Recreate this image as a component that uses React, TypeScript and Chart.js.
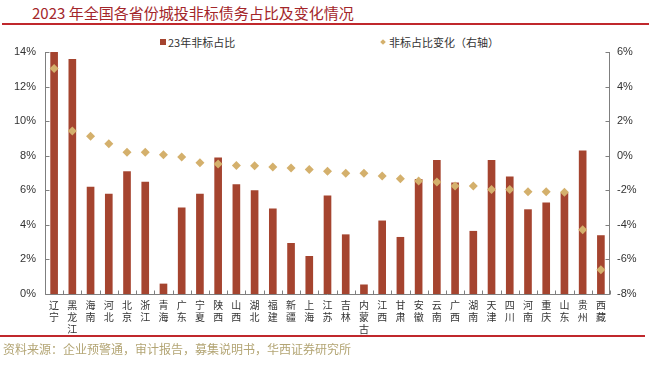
import React, { useEffect, useRef } from "react";
import { Chart, registerables } from "chart.js";

Chart.register(...registerables);

const provinces = [
  "辽宁", "黑龙江", "海南", "河北", "北京", "浙江", "青海", "广东", "宁夏", "陕西",
  "山西", "湖北", "福建", "新疆", "上海", "江苏", "吉林", "内蒙古", "江西", "甘肃",
  "安徽", "云南", "广西", "湖南", "天津", "四川", "河南", "重庆", "山东", "贵州", "西藏",
];
const share2023 = [
  14.0, 13.6, 6.2, 5.8, 7.1, 6.5, 0.6, 5.0, 5.8, 7.9,
  6.35, 6.0, 4.95, 2.95, 2.2, 5.7, 3.45, 0.55, 4.25, 3.3,
  6.65, 7.75, 6.45, 3.65, 7.75, 6.8, 4.9, 5.3, 5.85, 8.3, 3.4,
];
const shareChange = [
  5.05, 1.43, 1.12, 0.69, 0.2, 0.2, 0.06, -0.08, -0.4, -0.48,
  -0.56, -0.58, -0.65, -0.71, -0.8, -0.9, -1.02, -1.02, -1.17, -1.33,
  -1.46, -1.52, -1.75, -1.75, -1.96, -1.96, -2.08, -2.08, -2.12, -4.29, -6.59,
];
const leftMin = 0;
const leftMax = 14;
const rightMin = -8;
const rightMax = 6;
const tickStep = 2;

const barColor = "#A5442F";
const pointColor = "#D4B06C";
const axisColor = "#7F7F7F";

const axisPlugin = {
  id: "innerTicks",
  afterDraw(chart: any) {
    const { ctx, chartArea } = chart;
    const { left, right, top, bottom } = chartArea;
    const y = chart.scales.y;
    const y1 = chart.scales.y1;
    ctx.save();
    ctx.strokeStyle = axisColor;
    ctx.lineWidth = 1;
    ctx.beginPath();
    const L = Math.round(left) + 0.5;
    const R = Math.round(right) - 0.5;
    const B = Math.round(bottom) + 0.5;
    ctx.moveTo(L, Math.round(top));
    ctx.lineTo(L, B);
    ctx.lineTo(R + 0.5, B);
    ctx.moveTo(R, Math.round(top));
    ctx.lineTo(R, B);
    for (let v = leftMin; v <= leftMax; v += tickStep) {
      const py = Math.round(y.getPixelForValue(v)) + 0.5;
      ctx.moveTo(L, py);
      ctx.lineTo(L + 4, py);
    }
    for (let v = rightMin; v <= rightMax; v += tickStep) {
      const py = Math.round(y1.getPixelForValue(v)) + 0.5;
      ctx.moveTo(R, py);
      ctx.lineTo(R - 4, py);
    }
    const n = provinces.length;
    const w = (right - left) / n;
    for (let i = 0; i <= n; i++) {
      const px = Math.round(left + i * w) + 0.5;
      ctx.moveTo(px, B);
      ctx.lineTo(px, B - 4);
    }
    ctx.stroke();
    ctx.restore();
  },
};

export default function App() {
  const ref = useRef<HTMLCanvasElement>(null);

  useEffect(() => {
    if (!ref.current) return;
    const chart = new Chart(ref.current, {
      type: "bar",
      data: {
        labels: provinces.map((p) => p.split("")),
        datasets: [
          {
            type: "line",
            label: "非标占比变化（右轴）",
            data: shareChange,
            yAxisID: "y1",
            showLine: false,
            pointStyle: "rectRot",
            pointRadius: 4.5,
            pointBackgroundColor: pointColor,
            pointBorderColor: pointColor,
            pointBorderWidth: 0,
            order: 0,
          } as any,
          {
            type: "bar",
            label: "23年非标占比",
            data: share2023,
            yAxisID: "y",
            backgroundColor: barColor,
            barPercentage: 0.42,
            categoryPercentage: 1,
            order: 1,
          },
        ],
      },
      options: {
        animation: false,
        responsive: false,
        maintainAspectRatio: false,
        layout: { padding: { top: 52, left: 0, right: 0, bottom: 0 } },
        plugins: {
          legend: { display: false },
          tooltip: { enabled: false },
        },
        scales: {
          x: {
            offset: true,
            grid: { display: false, drawTicks: false },
            border: { display: false },
            ticks: {
              autoSkip: false,
              maxRotation: 0,
              padding: 5,
              color: "#333",
              font: { family: "'Noto Sans CJK SC'", size: 10, lineHeight: 1.2 },
            },
            afterFit: (s: any) => {
              s.height = 71;
            },
          },
          y: {
            position: "left",
            min: leftMin,
            max: leftMax,
            grid: { display: false, drawTicks: false },
            border: { display: false },
            ticks: {
              stepSize: tickStep,
              padding: 9,
              color: "#333",
              font: { family: "'Liberation Sans', Arial", size: 11 },
              callback: (v: any) => v + "%",
            },
            afterFit: (s: any) => {
              s.width = 45;
            },
          },
          y1: {
            position: "right",
            min: rightMin,
            max: rightMax,
            grid: { display: false, drawTicks: false },
            border: { display: false },
            ticks: {
              stepSize: tickStep,
              padding: 7,
              color: "#333",
              font: { family: "'Liberation Sans', Arial", size: 11 },
              callback: (v: any) => v + "%",
            },
            afterFit: (s: any) => {
              s.width = 39;
            },
          },
        },
      },
      plugins: [axisPlugin],
    });
    return () => chart.destroy();
  }, []);

  const cjk = "'Noto Sans CJK SC', sans-serif";
  return (
    <div style={{ position: "fixed", left: 0, top: 0, width: 649, height: 365, background: "#fff", overflow: "hidden" }}>
      <div style={{ position: "absolute", left: 32, top: 3, fontFamily: cjk, fontSize: 15, color: "#A3262A", whiteSpace: "nowrap", lineHeight: "20px" }}>
        2023 年全国各省份城投非标债务占比及变化情况
      </div>
      <div style={{ position: "absolute", left: 2, top: 23, width: 647, height: 2, background: "#C0282C" }} />
      <div style={{ position: "absolute", left: 160, top: 34, fontFamily: cjk, fontSize: 11, color: "#333", whiteSpace: "nowrap", lineHeight: "16px", display: "flex", alignItems: "center" }}>
        <span style={{ display: "inline-block", width: 6, height: 6, background: barColor, marginRight: 2 }} />
        23年非标占比
      </div>
      <div style={{ position: "absolute", left: 381, top: 34, fontFamily: cjk, fontSize: 11, color: "#333", whiteSpace: "nowrap", lineHeight: "16px", display: "flex", alignItems: "center" }}>
        <span style={{ display: "inline-block", width: 4, height: 4, background: pointColor, transform: "rotate(45deg)", marginRight: 4 }} />
        非标占比变化（右轴）
      </div>
      <canvas ref={ref} width={649} height={365} style={{ position: "absolute", left: 0, top: 0 }} />
      <div style={{ position: "absolute", left: 0, top: 335, width: 645, height: 2, background: "#C0282C" }} />
      <div style={{ position: "absolute", left: 3, top: 341, fontFamily: cjk, fontSize: 12, color: "#B3A574", whiteSpace: "nowrap", lineHeight: "16px" }}>
        资料来源：企业预警通，审计报告，募集说明书，华西证券研究所
      </div>
    </div>
  );
}
